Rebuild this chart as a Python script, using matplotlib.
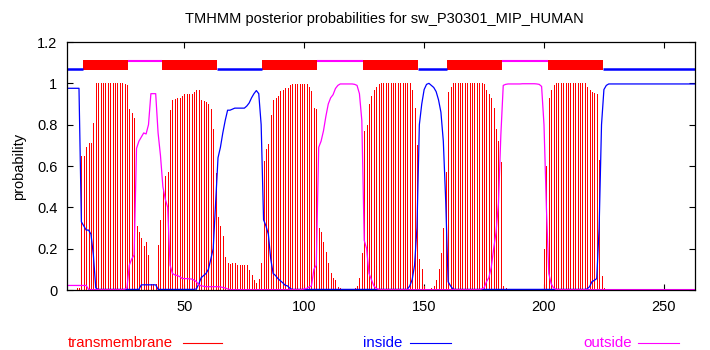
import matplotlib
matplotlib.use("Agg")
import matplotlib.pyplot as plt
from matplotlib.lines import Line2D

plt.rcParams['font.family'] = ['Liberation Sans', 'DejaVu Sans']

# probabilidades por residuo (1..263)
tm_prob = [
    0.0, 0.0, 0.0, 0.0, 0.01, 0.01, 0.65, 0.65, 0.69, 0.71,
    0.71, 0.81, 1.0, 1.0, 1.0, 1.0, 1.0, 1.0, 1.0, 1.0,
    1.0, 1.0, 1.0, 1.0, 0.995, 0.99, 0.875, 0.855, 0.83, 0.31,
    0.28, 0.25, 0.215, 0.23, 0.17, 0.03, 0.03, 0.03, 0.22, 0.34,
    0.48, 0.55, 0.57, 0.87, 0.92, 0.925, 0.927, 0.93, 0.94, 0.95,
    0.95, 0.95, 0.95, 0.96, 0.97, 0.97, 0.92, 0.915, 0.91, 0.90,
    0.875, 0.78, 0.565, 0.355, 0.31, 0.26, 0.16, 0.13, 0.126, 0.13,
    0.13, 0.12, 0.12, 0.12, 0.12, 0.12, 0.097, 0.073, 0.048, 0.035,
    0.053, 0.13, 0.626, 0.68, 0.705, 0.847, 0.92, 0.93, 0.94, 0.963,
    0.97, 0.976, 0.976, 0.99, 0.995, 0.995, 0.995, 0.995, 0.995, 0.995,
    0.995, 0.984, 0.965, 0.88, 0.875, 0.30, 0.28, 0.23, 0.185, 0.13,
    0.08, 0.06, 0.048, 0.016, 0.008, 0.005, 0.005, 0.005, 0.005, 0.005,
    0.01, 0.02, 0.06, 0.18, 0.77, 0.80, 0.90, 0.94, 0.97, 0.98,
    0.995, 1.0, 1.0, 1.0, 1.0, 1.0, 1.0, 1.0, 1.0, 1.0,
    1.0, 1.0, 1.0, 1.0, 0.97, 0.88, 0.70, 0.15, 0.10, 0.02,
    0.005, 0.005, 0.01, 0.02, 0.05, 0.10, 0.18, 0.30, 0.57, 0.96,
    0.98, 1.0, 1.0, 1.0, 1.0, 1.0, 1.0, 1.0, 1.0, 1.0,
    1.0, 1.0, 1.0, 1.0, 0.995, 0.97, 0.95, 0.93, 0.88, 0.78,
    0.72, 0.62, 0.02, 0.01, 0.003, 0.003, 0.003, 0.003, 0.003, 0.003,
    0.003, 0.003, 0.003, 0.003, 0.003, 0.003, 0.003, 0.003, 0.005, 0.2,
    0.6, 0.93, 0.97, 0.99, 1.0, 1.0, 1.0, 1.0, 1.0, 1.0,
    1.0, 1.0, 1.0, 1.0, 1.0, 1.0, 1.0, 0.98, 0.97, 0.96,
    0.955, 0.95, 0.63, 0.07, 0.01, 0.0, 0.0, 0.0, 0.0, 0.0,
    0.0, 0.0, 0.0, 0.0, 0.0, 0.0, 0.0, 0.0, 0.0, 0.0,
    0.0, 0.0, 0.0, 0.0, 0.0, 0.0, 0.0, 0.0, 0.0, 0.0,
    0.0, 0.0, 0.0, 0.0, 0.0, 0.0, 0.0, 0.0, 0.0, 0.0,
    0.0, 0.0, 0.0,
]

inside_prob = [
    0.976, 0.976, 0.976, 0.976, 0.976, 0.976, 0.33, 0.31, 0.29, 0.29,
    0.27, 0.17, 0.01, 0.003, 0.003, 0.003, 0.003, 0.003, 0.003, 0.003,
    0.003, 0.003, 0.003, 0.003, 0.003, 0.003, 0.003, 0.003, 0.003, 0.003,
    0.003, 0.025, 0.025, 0.025, 0.025, 0.025, 0.025, 0.025, 0.003, 0.003,
    0.003, 0.003, 0.003, 0.003, 0.003, 0.003, 0.003, 0.003, 0.003, 0.003,
    0.003, 0.003, 0.003, 0.003, 0.005, 0.03, 0.06, 0.07, 0.08, 0.1,
    0.15, 0.2, 0.42, 0.64, 0.69, 0.76, 0.82, 0.87, 0.87, 0.875,
    0.88, 0.88, 0.88, 0.88, 0.88, 0.89, 0.905, 0.93, 0.95, 0.965,
    0.95, 0.8, 0.34, 0.31, 0.27, 0.15, 0.08, 0.07, 0.055, 0.045,
    0.035, 0.023, 0.02, 0.008, 0.003, 0.003, 0.003, 0.003, 0.003, 0.003,
    0.003, 0.003, 0.003, 0.003, 0.003, 0.003, 0.003, 0.003, 0.003, 0.003,
    0.003, 0.003, 0.003, 0.003, 0.003, 0.003, 0.003, 0.003, 0.003, 0.003,
    0.003, 0.003, 0.003, 0.003, 0.003, 0.003, 0.003, 0.003, 0.003, 0.003,
    0.003, 0.003, 0.003, 0.003, 0.003, 0.003, 0.003, 0.003, 0.003, 0.003,
    0.003, 0.003, 0.003, 0.02, 0.05, 0.12, 0.3, 0.8, 0.9, 0.97,
    0.995, 1.0, 0.99, 0.98, 0.96, 0.92, 0.86, 0.72, 0.43, 0.04,
    0.02, 0.005, 0.003, 0.003, 0.003, 0.003, 0.003, 0.003, 0.003, 0.003,
    0.003, 0.003, 0.003, 0.003, 0.003, 0.003, 0.003, 0.003, 0.003, 0.003,
    0.003, 0.003, 0.003, 0.003, 0.003, 0.003, 0.003, 0.003, 0.003, 0.003,
    0.003, 0.003, 0.003, 0.003, 0.003, 0.003, 0.003, 0.003, 0.003, 0.003,
    0.003, 0.003, 0.003, 0.003, 0.003, 0.003, 0.003, 0.003, 0.003, 0.003,
    0.003, 0.003, 0.003, 0.003, 0.003, 0.003, 0.003, 0.005, 0.016, 0.04,
    0.047, 0.055, 0.3, 0.8, 0.97, 0.99, 0.997, 0.997, 0.997, 0.997,
    0.997, 0.997, 0.997, 0.997, 0.997, 0.997, 0.997, 0.997, 0.997, 0.997,
    0.997, 0.997, 0.997, 0.997, 0.997, 0.997, 0.997, 0.997, 0.997, 0.997,
    0.997, 0.997, 0.997, 0.997, 0.997, 0.997, 0.997, 0.997, 0.997, 0.997,
    0.997, 0.997, 0.997,
]

outside_prob = [
    0.022, 0.022, 0.022, 0.022, 0.022, 0.022, 0.022, 0.022, 0.022, 0.003,
    0.002, 0.002, 0.002, 0.002, 0.002, 0.002, 0.002, 0.002, 0.002, 0.002,
    0.002, 0.002, 0.002, 0.002, 0.003, 0.01, 0.12, 0.15, 0.17, 0.685,
    0.72, 0.74, 0.76, 0.755, 0.8, 0.95, 0.95, 0.95, 0.76, 0.65,
    0.5, 0.44, 0.4, 0.12, 0.08, 0.073, 0.07, 0.065, 0.056, 0.055,
    0.055, 0.054, 0.053, 0.048, 0.04, 0.025, 0.02, 0.018, 0.016, 0.016,
    0.016, 0.016, 0.016, 0.016, 0.015, 0.012, 0.01, 0.005, 0.002, 0.002,
    0.002, 0.002, 0.002, 0.002, 0.002, 0.002, 0.002, 0.002, 0.002, 0.002,
    0.002, 0.002, 0.002, 0.002, 0.002, 0.002, 0.002, 0.002, 0.002, 0.002,
    0.002, 0.002, 0.002, 0.002, 0.002, 0.002, 0.002, 0.002, 0.002, 0.005,
    0.008, 0.015, 0.02, 0.1, 0.12, 0.69, 0.72, 0.77, 0.84, 0.9,
    0.93, 0.945, 0.975, 0.99, 0.997, 0.997, 0.997, 0.997, 0.997, 0.997,
    0.995, 0.99, 0.95, 0.82, 0.24, 0.2, 0.08, 0.05, 0.02, 0.008,
    0.003, 0.002, 0.002, 0.002, 0.002, 0.002, 0.002, 0.002, 0.002, 0.002,
    0.002, 0.002, 0.002, 0.002, 0.002, 0.002, 0.002, 0.002, 0.002, 0.002,
    0.002, 0.002, 0.002, 0.002, 0.002, 0.002, 0.002, 0.002, 0.002, 0.002,
    0.002, 0.002, 0.002, 0.002, 0.002, 0.002, 0.002, 0.002, 0.002, 0.002,
    0.002, 0.002, 0.002, 0.005, 0.01, 0.04, 0.06, 0.11, 0.2, 0.28,
    0.42, 0.75, 0.99, 0.995, 0.997, 0.997, 0.997, 0.997, 0.997, 0.997,
    0.998, 0.998, 0.998, 0.998, 0.998, 0.998, 0.997, 0.995, 0.985, 0.8,
    0.4, 0.08, 0.03, 0.01, 0.003, 0.002, 0.002, 0.002, 0.002, 0.002,
    0.002, 0.002, 0.002, 0.002, 0.002, 0.002, 0.002, 0.002, 0.002, 0.002,
    0.002, 0.002, 0.002, 0.002, 0.002, 0.002, 0.002, 0.002, 0.002, 0.002,
    0.002, 0.002, 0.002, 0.002, 0.002, 0.002, 0.002, 0.002, 0.002, 0.002,
    0.002, 0.002, 0.002, 0.002, 0.002, 0.002, 0.002, 0.002, 0.002, 0.002,
    0.002, 0.002, 0.002, 0.002, 0.002, 0.002, 0.002, 0.002, 0.002, 0.002,
    0.002, 0.002, 0.002,
]

# topologia predicha (inicio, fin)
inside_segs = [(1, 7), (64, 82), (148, 159), (225, 263)]
tm_segs = [(8, 26), (41, 63), (83, 105), (125, 147), (160, 182), (202, 224)]
outside_segs = [(27, 40), (106, 124), (183, 201)]

nombre = "sw_P30301_MIP_HUMAN"
residuos = list(range(1, len(tm_prob) + 1))

ROJO = "#ff0000"
AZUL = "#0000ff"
MAGENTA = "#ff00ff"

fig = plt.figure(figsize=(7.1, 3.5), dpi=100)
ax = fig.add_axes([67 / 710, 1 - 290 / 350, 628 / 710, 248 / 350])

# impulsos finos, un pixel cada uno
ax.vlines(residuos, 0, tm_prob, color=ROJO, linewidth=0.7, antialiased=False)
ax.plot(residuos, inside_prob, color=AZUL, linewidth=0.9)
ax.plot(residuos, outside_prob, color=MAGENTA, linewidth=0.9)

# barras de topologia arriba
for s, e in tm_segs:
    ax.broken_barh([(s - 0.5, e - s + 1)], (1.064, 0.049), facecolor=ROJO, edgecolor="none")
for s, e in inside_segs:
    ax.plot([max(s - 0.5, 1), e + 0.5], [1.068, 1.068], color=AZUL, linewidth=1.8,
            solid_capstyle="butt")
for s, e in outside_segs:
    ax.plot([s - 0.5, e + 0.5], [1.108, 1.108], color=MAGENTA, linewidth=1.5,
            solid_capstyle="butt")

ax.set_xlim(1, 263)
ax.set_ylim(0, 1.2)
ax.set_xticks([50, 100, 150, 200, 250])
ax.set_yticks([0, 0.2, 0.4, 0.6, 0.8, 1, 1.2])
ax.set_yticklabels(["0", "0.2", "0.4", "0.6", "0.8", "1", "1.2"])
ax.tick_params(direction="in", length=4, width=0.8, top=True, right=True,
               labelsize=10.5, pad=7)
for sp in ax.spines.values():
    sp.set_linewidth(0.9)

ax.set_ylabel("probability", fontsize=10.5, labelpad=8)
fig.text(384 / 710, 1 - 19 / 350, "TMHMM posterior probabilities for " + nombre,
         ha="center", va="center", fontsize=10.5)

# leyenda abajo
ly = 1 - 343 / 350
fig.text(68 / 710, ly, "transmembrane", color=ROJO, ha="left", va="center", fontsize=10.8)
fig.add_artist(Line2D([183 / 710, 222 / 710], [ly, ly], color=ROJO, linewidth=0.8))
fig.text(363 / 710, ly, "inside", color=AZUL, ha="left", va="center", fontsize=10.8)
fig.add_artist(Line2D([410 / 710, 451 / 710], [ly, ly], color=AZUL, linewidth=0.8))
fig.text(583 / 710, ly, "outside", color=MAGENTA, ha="left", va="center", fontsize=10.8)
fig.add_artist(Line2D([638 / 710, 679 / 710], [ly, ly], color=MAGENTA, linewidth=0.8))

fig.savefig("out.png", dpi=100)
